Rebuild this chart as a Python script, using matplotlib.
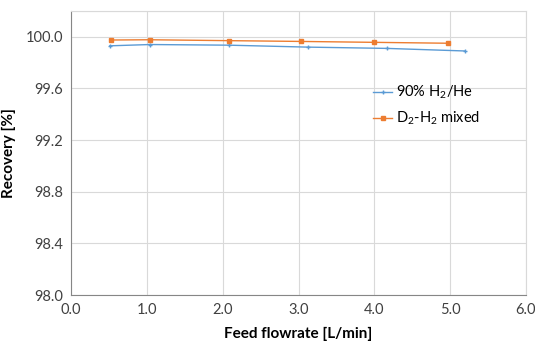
import matplotlib
matplotlib.use("Agg")
import matplotlib.pyplot as plt

plt.rcParams['font.family'] = ['Lato', 'DejaVu Sans']
plt.rcParams['mathtext.fontset'] = 'custom'
plt.rcParams['mathtext.rm'] = 'Lato'
plt.rcParams['mathtext.it'] = 'Lato'

# Recovery vs feed flowrate
flow_h2he = [0.51, 1.04, 2.08, 3.12, 4.17, 5.20]
rec_h2he = [99.93, 99.94, 99.935, 99.92, 99.91, 99.89]

flow_d2h2 = [0.53, 1.04, 2.08, 3.03, 3.99, 4.97]
rec_d2h2 = [99.975, 99.977, 99.97, 99.964, 99.957, 99.95]

x_ticks = [0, 1, 2, 3, 4, 5, 6]
y_ticks = [98.0, 98.4, 98.8, 99.2, 99.6, 100.0]

fig = plt.figure(figsize=(5.35, 3.42), dpi=100)
ax = fig.add_axes([0.133, 0.137, 0.850, 0.831])

ax.plot(flow_h2he, rec_h2he, color='#5B9BD5', linewidth=1.0, marker='+',
        markersize=3.5, markeredgewidth=1.0, label='90% H$_2$/He')
ax.plot(flow_d2h2, rec_d2h2, color='#ED7D31', linewidth=1.0, marker='s',
        markersize=3.5, label='D$_2$-H$_2$ mixed')

ax.set_xlim(0, 6)
ax.set_ylim(98.0, 100.2)
ax.set_xticks(x_ticks)
ax.set_yticks(y_ticks + [100.2])
ax.set_xticklabels([f"{v:.1f}" for v in x_ticks])
ax.set_yticklabels([f"{v:.1f}" for v in y_ticks] + [""])
ax.tick_params(length=0, labelsize=10.5, colors='#404040', pad=6)

ax.grid(True, color='#d9d9d9', linewidth=0.8)
for side in ['top', 'right']:
    ax.spines[side].set_color('#d9d9d9')
for side in ['left', 'bottom']:
    ax.spines[side].set_color('#868686')

ax.set_xlabel("Feed flowrate [L/min]", fontsize=11, fontweight='bold', labelpad=7)
ax.set_ylabel("Recovery [%]", fontsize=11, fontweight='bold', labelpad=7)

ax.legend(loc='upper left', bbox_to_anchor=(0.635, 0.79), frameon=False,
          fontsize=10.5, handlelength=1.3, handletextpad=0.3, labelspacing=0.6)

fig.savefig("out.png", dpi=100)
